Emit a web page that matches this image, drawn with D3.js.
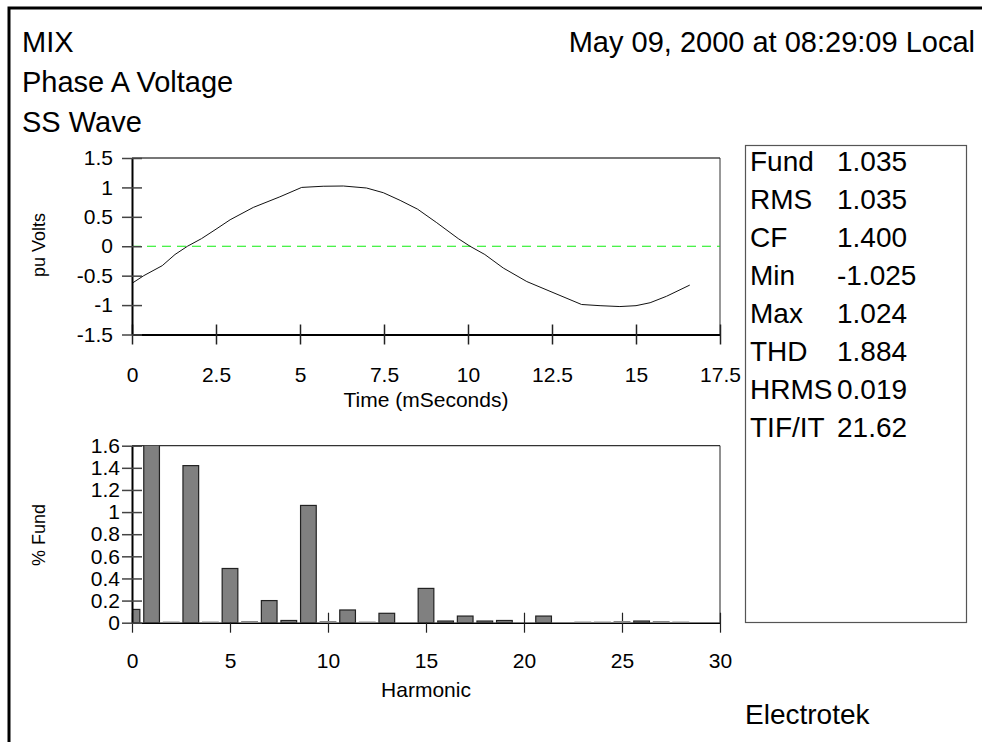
<!DOCTYPE html>
<html>
<head>
<meta charset="utf-8">
<script src="https://cdn.jsdelivr.net/npm/d3@7"></script>
<style>
  body { margin: 0; background: #fff; }
  svg { display: block; font-family: "Liberation Sans", Arial, sans-serif; }
</style>
</head>
<body>
<svg id="chart" width="982" height="742"></svg>
<script>
// Waveform samples (ms, pu)
const waveTime = [0, 0.35, 0.9, 1.28, 1.65, 2.07, 2.5, 2.92, 3.61, 4.4, 5.05, 5.69, 6.29, 6.98, 7.48,
  7.98, 8.5, 9.07, 9.71, 10.06, 10.5, 11.05, 11.75, 12.5, 13.38, 13.93, 14.52, 15.0, 15.42, 15.91, 16.6];
const waveValue = [-0.63, -0.5, -0.33, -0.14, 0, 0.13, 0.29, 0.45, 0.66, 0.84, 1.0, 1.02, 1.024, 0.99, 0.91,
  0.78, 0.63, 0.4, 0.13, 0, -0.14, -0.37, -0.6, -0.78, -0.99, -1.01, -1.025, -1.01, -0.96, -0.85, -0.66];

// Harmonic spectrum (% of fundamental)
const harmonicOrder = d3.range(0, 31);
const harmonicValue = [0.12, 100, 0.005, 1.42, 0.005, 0.49, 0.01, 0.2, 0.02, 1.06, 0.01, 0.115, 0.005, 0.085, 0,
  0.31, 0.015, 0.06, 0.015, 0.02, 0, 0.06, 0, 0.005, 0.005, 0.01, 0.015, 0.01, 0.005, 0, 0];

// Tick values
const timeTicks = [0, 2.5, 5, 7.5, 10, 12.5, 15, 17.5];
const voltTicks = [-1.5, -1, -0.5, 0, 0.5, 1, 1.5];
const harmTicks = [0, 5, 10, 15, 20, 25, 30];
const fundTicks = [0, 0.2, 0.4, 0.6, 0.8, 1, 1.2, 1.4, 1.6];

// Header and summary text
const titleLines = ['MIX', 'Phase A Voltage', 'SS Wave'];
const dateText = 'May 09, 2000 at 08:29:09 Local';
const statLabels = ['Fund', 'RMS', 'CF', 'Min', 'Max', 'THD', 'HRMS', 'TIF/IT'];
const statValues = ['1.035', '1.035', '1.400', '-1.025', '1.024', '1.884', '0.019', '21.62'];

const svg = d3.select('#chart');
svg.append('rect').attr('width', 982).attr('height', 742).attr('fill', '#fff');

// Outer frame (runs off the right/bottom edge)
svg.append('rect')
  .attr('x', 9).attr('y', 8).attr('width', 1100).attr('height', 1100)
  .attr('fill', 'none').attr('stroke', '#000').attr('stroke-width', 3);

// Header
svg.selectAll('text.title')
  .data(titleLines)
  .enter()
  .append('text')
  .attr('class', 'title')
  .attr('x', 22)
  .attr('y', (d, i) => 52 + i * 40)
  .attr('font-size', 29)
  .text(d => d);

svg.append('text')
  .attr('x', 975).attr('y', 52)
  .attr('text-anchor', 'end')
  .attr('font-size', 29)
  .text(dateText);

/* ---------- Waveform chart ---------- */
const xT = d3.scaleLinear().domain([0, 17.5]).range([132, 720]);
const yT = d3.scaleLinear().domain([-1.5, 1.5]).range([334.5, 158]);

svg.append('line')
  .attr('x1', xT(0)).attr('x2', xT(17.5)).attr('y1', yT(1.5)).attr('y2', yT(1.5))
  .attr('stroke', '#777').attr('stroke-width', 2);
svg.append('line')
  .attr('x1', xT(17.5)).attr('x2', xT(17.5)).attr('y1', yT(1.5)).attr('y2', yT(-1.5))
  .attr('stroke', '#333').attr('stroke-width', 1);

// Zero reference
svg.append('line')
  .attr('x1', xT(0)).attr('x2', xT(17.5)).attr('y1', yT(0)).attr('y2', yT(0))
  .attr('stroke', '#11ee11').attr('stroke-width', 1.2)
  .attr('stroke-dasharray', '9,6');

const wave = waveTime.map((t, i) => ({ t, v: waveValue[i] }));
svg.append('path')
  .datum(wave)
  .attr('fill', 'none')
  .attr('stroke', '#111')
  .attr('stroke-width', 1)
  .attr('d', d3.line().x(d => xT(d.t)).y(d => yT(d.v)));

function styleAxis(g, size) {
  g.attr('font-size', size).attr('font-family', '"Liberation Sans", Arial, sans-serif');
  g.select('.domain').attr('stroke', '#000').attr('stroke-width', 2);
  g.selectAll('.tick text').attr('fill', '#000');
}

const axT = svg.append('g')
  .attr('transform', `translate(0,${yT(-1.5)})`)
  .call(d3.axisBottom(xT).tickValues(timeTicks).tickSize(10).tickSizeOuter(0).tickPadding(23).tickFormat(d => String(d)));
styleAxis(axT, 21);
axT.selectAll('.tick line').attr('y1', -10).attr('stroke', '#222').attr('stroke-width', 1.5);

const ayT = svg.append('g')
  .attr('transform', `translate(${xT(0)},0)`)
  .call(d3.axisLeft(yT).tickValues(voltTicks).tickSize(10).tickSizeOuter(0).tickPadding(9).tickFormat(d => String(d)));
styleAxis(ayT, 21);
ayT.selectAll('.tick line').attr('x1', 10).attr('stroke', '#444').attr('stroke-width', 1.5);

svg.append('text')
  .attr('x', 426).attr('y', 407)
  .attr('text-anchor', 'middle').attr('font-size', 21)
  .text('Time (mSeconds)');

svg.append('text')
  .attr('transform', 'translate(39,245) rotate(-90)')
  .attr('dy', '0.35em')
  .attr('text-anchor', 'middle').attr('font-size', 18)
  .text('pu Volts');

/* ---------- Harmonic spectrum ---------- */
const xH = d3.scaleLinear().domain([0, 30]).range([132, 720]);
const yH = d3.scaleLinear().domain([0, 1.6]).range([622.7, 445.7]);
const barW = xH(0.8) - xH(0);

svg.append('defs').append('clipPath').attr('id', 'plotH')
  .append('rect')
  .attr('x', xH(0)).attr('y', yH(1.6))
  .attr('width', xH(30) - xH(0)).attr('height', yH(0) - yH(1.6));

svg.append('line')
  .attr('x1', xH(0)).attr('x2', xH(30)).attr('y1', yH(1.6)).attr('y2', yH(1.6))
  .attr('stroke', '#333').attr('stroke-width', 1.2);
svg.append('line')
  .attr('x1', xH(30)).attr('x2', xH(30)).attr('y1', yH(1.6)).attr('y2', yH(0))
  .attr('stroke', '#222').attr('stroke-width', 1);

const axH = svg.append('g')
  .attr('transform', `translate(0,${yH(0)})`)
  .call(d3.axisBottom(xH).tickValues(harmTicks).tickSize(10).tickSizeOuter(0).tickPadding(20).tickFormat(d => String(d)));
styleAxis(axH, 21);
axH.select('.domain').attr('stroke-width', 1.5);
axH.selectAll('.tick line').attr('y1', -10).attr('stroke', '#222').attr('stroke-width', 1.2);

// zero-valued harmonics draw nothing
const bars = harmonicOrder.map((h, i) => ({ h, v: harmonicValue[i] })).filter(d => d.v > 0);
svg.append('g')
  .attr('clip-path', 'url(#plotH)')
  .selectAll('rect')
  .data(bars)
  .enter()
  .append('rect')
  .attr('x', d => xH(d.h) - barW / 2)
  .attr('y', d => yH(d.v))
  .attr('width', barW)
  .attr('height', d => yH(0) - yH(d.v))
  .attr('fill', '#808080')
  .attr('stroke', d => d.v < 0.012 ? '#888' : '#222')
  .attr('stroke-width', 1.2);

const ayH = svg.append('g')
  .attr('transform', `translate(${xH(0)},0)`)
  .call(d3.axisLeft(yH).tickValues(fundTicks).tickSize(10).tickSizeOuter(0).tickPadding(2).tickFormat(d => String(d)));
styleAxis(ayH, 21);
ayH.selectAll('.tick line').attr('x1', 10).attr('stroke', '#444').attr('stroke-width', 1.5);

svg.append('text')
  .attr('x', 426).attr('y', 697)
  .attr('text-anchor', 'middle').attr('font-size', 21)
  .text('Harmonic');

svg.append('text')
  .attr('transform', 'translate(39,535) rotate(-90)')
  .attr('dy', '0.35em')
  .attr('text-anchor', 'middle').attr('font-size', 18)
  .text('% Fund');

/* ---------- Summary box ---------- */
svg.append('rect')
  .attr('x', 745.5).attr('y', 145.5).attr('width', 221).attr('height', 477)
  .attr('fill', 'none').attr('stroke', '#555').attr('stroke-width', 1.2);

const rows = svg.append('g').selectAll('g')
  .data(statLabels)
  .enter()
  .append('g')
  .attr('transform', (d, i) => `translate(0,${171 + i * 38})`);
rows.append('text').attr('x', 750).attr('font-size', 28).text(d => d);
rows.append('text').attr('x', 837).attr('font-size', 28).text((d, i) => statValues[i]);

svg.append('text')
  .attr('x', 745).attr('y', 724)
  .attr('font-size', 28)
  .text('Electrotek');
</script>
</body>
</html>
